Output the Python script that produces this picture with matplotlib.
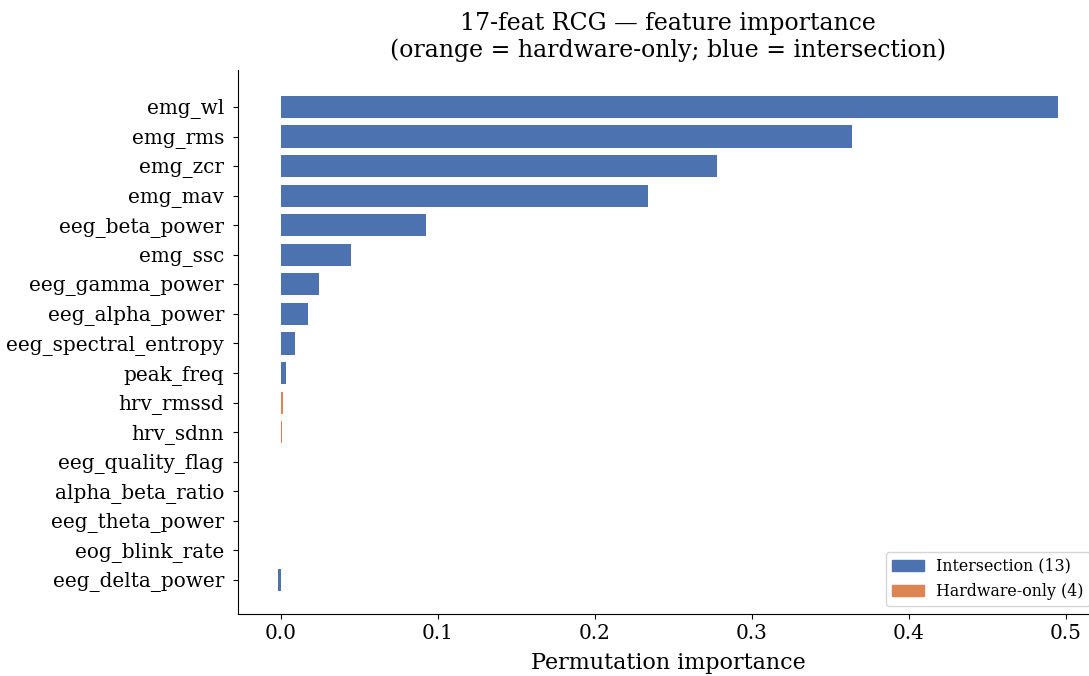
import matplotlib
matplotlib.use("Agg")
import matplotlib.pyplot as plt
from matplotlib.patches import Patch

features = ["emg_wl", "emg_rms", "emg_zcr", "emg_mav", "eeg_beta_power", "emg_ssc",
            "eeg_gamma_power", "eeg_alpha_power", "eeg_spectral_entropy", "peak_freq",
            "hrv_rmssd", "hrv_sdnn", "eeg_quality_flag", "alpha_beta_ratio",
            "eeg_theta_power", "eog_blink_rate", "eeg_delta_power"]
importance = [0.495, 0.364, 0.278, 0.234, 0.0925, 0.0447, 0.0243, 0.0173, 0.0089, 0.0033,
              0.0010, 0.0006, 0.0, 0.0, 0.0, 0.0, -0.0017]
group = ["intersection"] * 10 + ["hardware", "hardware", "hardware", "intersection",
                                  "intersection", "hardware", "intersection"]

BLUE = "#4C72B0"
ORANGE = "#DD8452"

plt.rcParams['font.family'] = ['DejaVu Serif']

fig = plt.figure(figsize=(10.89, 6.76), dpi=100)
ax = fig.add_axes([238/1089, 1-614/676, (1098-238)/1089, (614-70)/676])

ypos = list(range(len(features)))[::-1]
colors = [BLUE if g == "intersection" else ORANGE for g in group]
ax.barh(ypos, importance, height=0.75, color=colors)
ax.set_yticks(ypos)
ax.set_yticklabels(features, fontsize=14.4)
ax.tick_params(axis='y', pad=6.5)
ax.set_xlim(-0.0274, 0.5204)
ax.set_ylim(-1.15, 16 + 1.25)
ax.set_xticks([0.0, 0.1, 0.2, 0.3, 0.4, 0.5])
ax.set_xticklabels(["0.0", "0.1", "0.2", "0.3", "0.4", "0.5"], fontsize=14.4)
ax.set_xlabel("Permutation importance", fontsize=16, labelpad=7)
ax.set_title("17-feat RCG — feature importance\n(orange = hardware-only; blue = intersection)",
             fontsize=17, pad=9)
ax.spines['top'].set_visible(False)
ax.spines['right'].set_visible(False)
n_int = sum(1 for g in group if g == "intersection")
n_hw = sum(1 for g in group if g == "hardware")
handles = [Patch(color=BLUE, label=f"Intersection ({n_int})"),
           Patch(color=ORANGE, label=f"Hardware-only ({n_hw})")]
ax.legend(handles=handles, loc="lower right", fontsize=11.4)
fig.savefig("out.png", dpi=100)
